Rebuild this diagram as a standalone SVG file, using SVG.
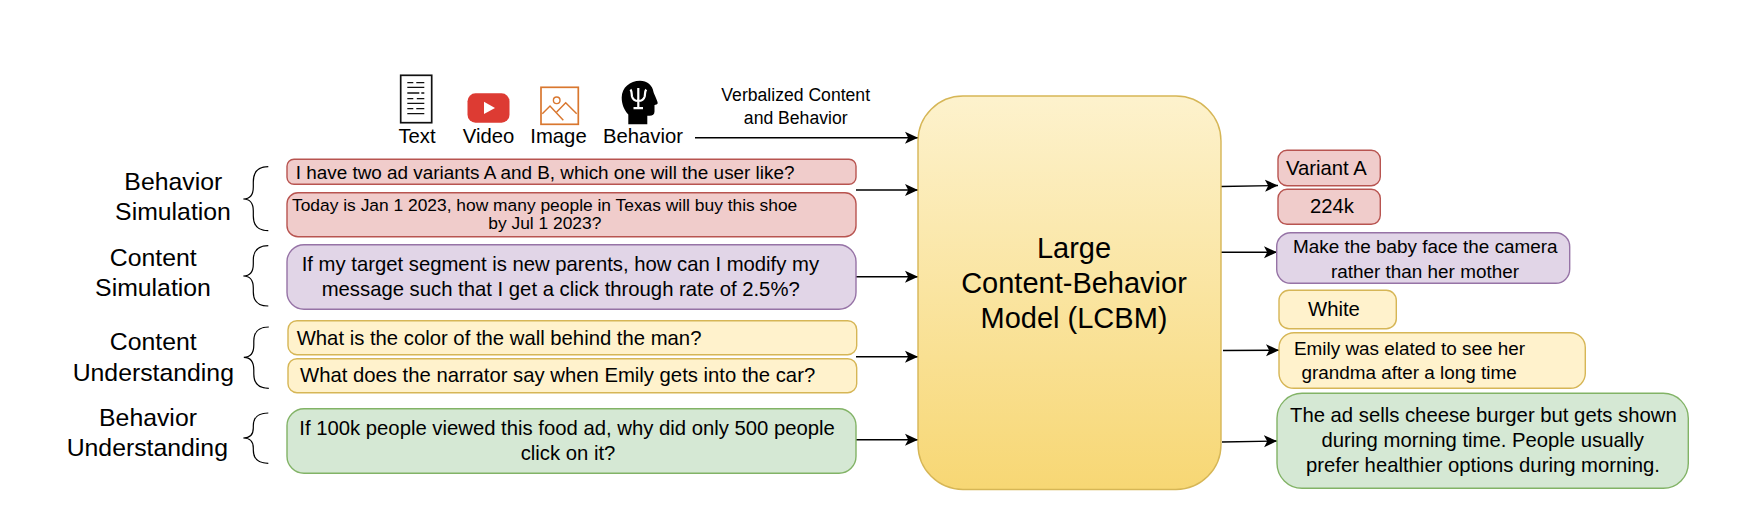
<svg xmlns="http://www.w3.org/2000/svg" width="1762" height="514" viewBox="0 0 1762 514">
<style>
text{font-family:"Liberation Sans",Arial,sans-serif;fill:#000}
.box{stroke-width:1.4}
.r{fill:#f0cccb;stroke:#b85450}
.p{fill:#e1d5e7;stroke:#9673a6}
.y{fill:#fff2cc;stroke:#d6b656}
.g{fill:#d5e8d4;stroke:#82b366}
.c{stroke:#000;stroke-width:1.4;fill:none;marker-end:url(#ah)}
.b{stroke:#000;stroke-width:1.2;fill:none}
.s17{font-size:17.6px}.s175{font-size:17.4px}.s19{font-size:18.9px}.s20{font-size:20.3px}.s24{font-size:24.8px}.s29{font-size:29px}
.m{text-anchor:middle}
</style>
<defs>
<marker id="ah" markerUnits="userSpaceOnUse" markerWidth="14" markerHeight="14" refX="13" refY="7" orient="auto"><path d="M0,1L13,7L0,13L3.2,7Z" fill="#000"/></marker>
<linearGradient id="gr" x1="0" y1="0" x2="0" y2="1"><stop offset="0" stop-color="#fdf2cd"/><stop offset="1" stop-color="#f7d774"/></linearGradient>
</defs>
<rect width="1762" height="514" fill="#fff"/>
<g id="connectors">
<path class="c" d="M695,137.7H918"/>
<path class="c" d="M856,190H918"/>
<path class="c" d="M856,276.7H918"/>
<path class="c" d="M856,356.7H918"/>
<path class="c" d="M856,439.7H918"/>
<path class="c" d="M1221,186.5L1278,185.5"/>
<path class="c" d="M1221,252.3H1277"/>
<path class="c" d="M1223,350.5L1279,350.2"/>
<path class="c" d="M1222,442L1277,441"/>
</g>
<g id="icon-text">
<rect x="400.7" y="75.3" width="31" height="47.4" fill="#fff" stroke="#111" stroke-width="1.7"/>
<path d="M407.3,82.7h6m3,0h8M407.3,87.3h17M407.3,93h12m2,0h3M407.3,98.7h6m3.500,0h7.500M407.3,103.3h17M407.3,108.7h6m3,0h8M407.3,113.7h17" stroke="#111" stroke-width="1.3" fill="none"/>
<text x="417" y="143" class="s20 m">Text</text>
</g>
<g id="icon-video">
<rect x="467.5" y="93.3" width="42" height="29.4" rx="8" fill="#dd3b33"/>
<path d="M484,101.7L495,108L484,114Z" fill="#fff"/>
<text x="488.5" y="143" class="s20 m">Video</text>
</g>
<g id="icon-image">
<rect x="541" y="87.3" width="37.3" height="37" fill="#fff" stroke="#d9772f" stroke-width="1.7"/>
<circle cx="556.7" cy="100.3" r="3.3" fill="none" stroke="#d9772f" stroke-width="1.4"/>
<path d="M542.3,113.7L550,106L563.3,120.3M556.7,112L565.700,102.700L576.7,113.7" fill="none" stroke="#d9772f" stroke-width="1.5"/>
<text x="558.5" y="143" class="s20 m">Image</text>
</g>
<g id="icon-behavior">
<path d="M628.300,124.300V114.500C624,110 621.700,104 621.700,97.500C621.700,87.500 630,80.700 640,80.700C647,80.700 652.500,85 653.500,92C654,94 657.700,101 657.700,103C657.700,104.500 655.500,104.500 654.500,105V111.500C654.500,114.500 652.500,115.700 649.500,115.700H647.300V124.300Z" fill="#000"/>
<path d="M630.500,89.500C632,91.500 631.500,94 632,96.500C633,100 635.500,101 638.300,101C641.200,101 643.700,100 644.700,96.500C645.200,94 644.700,91.500 646.200,89.500M638.300,88V108M633.500,108.200H643" fill="none" stroke="#fff" stroke-width="2.200"/>
<text x="643" y="143" class="s20 m">Behavior</text>
</g>
<g id="label-verbalized">
<text x="795.7" y="101.3" class="s17 m">Verbalized Content</text>
<text x="795.7" y="123.7" class="s17 m">and Behavior</text>
</g>
<g id="label-behavior-simulation">
<text x="173.3" y="190" class="s24 m">Behavior</text>
<text x="173" y="220" class="s24 m">Simulation</text>
<path class="b" d="M268.3,166.7C258,166.7 253.3,172 253.3,182V187C253.3,195 250,199 243.3,199C250,199 253.3,203 253.3,211V216C253.3,226 258,230.7 268.3,230.7"/>
</g>
<g id="label-content-simulation">
<text x="153.3" y="265.5" class="s24 m">Content</text>
<text x="153" y="296" class="s24 m">Simulation</text>
<path class="b" d="M268.3,245.7C258,245.700 253.3,251 253.3,260V264C253.3,272 250,276 243.3,276C250,276 253.3,280 253.3,288V292C253.3,301 258,306 268.3,306"/>
</g>
<g id="label-content-understanding">
<text x="153.3" y="350" class="s24 m">Content</text>
<text x="153.3" y="381" class="s24 m">Understanding</text>
<path class="b" d="M268.8,327C258.5,327 253.8,332 253.8,341V345C253.8,353 250.5,357.3 243.8,357.3C250.5,357.3 253.8,362 253.8,370V374C253.8,383 258.5,388.3 268.8,388.3"/>
</g>
<g id="label-behavior-understanding">
<text x="148" y="426" class="s24 m">Behavior</text>
<text x="147.3" y="456" class="s24 m">Understanding</text>
<path class="b" d="M268.3,413C258,413 253.3,418 253.3,426V428C253.3,434 250,438 243.3,438C250,438 253.3,442 253.3,448V450C253.3,458 258,463.3 268.3,463.3"/>
</g>
<g id="q-red-1"><rect class="box r" x="287" y="159.3" width="569" height="25" rx="7"/>
<text x="295.7" y="179" class="s19">I have two ad variants A and B, which one will the user like?</text></g>
<g id="q-red-2"><rect class="box r" x="287" y="192.7" width="569" height="44" rx="11"/>
<text x="292" y="211.3" class="s175">Today is Jan 1 2023, how many people in Texas will buy this shoe</text>
<text x="544.8" y="229" class="s175 m">by Jul 1 2023?</text></g>
<g id="q-purple"><rect class="box p" x="287" y="244.7" width="569" height="64.6" rx="17"/>
<text x="301.7" y="271.2" class="s20">If my target segment is new parents, how can I modify my</text>
<text x="321.7" y="296.2" class="s20">message such that I get a click through rate of 2.5%?</text></g>
<g id="q-yellow-1"><rect class="box y" x="288" y="320.7" width="568.7" height="34" rx="9"/>
<text x="296.7" y="344.5" class="s20">What is the color of the wall behind the man?</text></g>
<g id="q-yellow-2"><rect class="box y" x="288" y="358.7" width="568.7" height="34" rx="9"/>
<text x="300" y="382.3" class="s20">What does the narrator say when Emily gets into the car?</text></g>
<g id="q-green"><rect class="box g" x="287" y="408.7" width="569" height="64.6" rx="17"/>
<text x="299.3" y="434.5" class="s20">If 100k people viewed this food ad, why did only 500 people</text>
<text x="568" y="459.5" class="s20 m">click on it?</text></g>
<g id="lcbm"><rect x="918" y="96" width="303" height="393.5" rx="45" fill="url(#gr)" stroke="#d6b656" stroke-width="1.4"/>
<text x="1074" y="258" class="s29 m">Large</text>
<text x="1074" y="293.3" class="s29 m">Content-Behavior</text>
<text x="1074" y="328.3" class="s29 m">Model (LCBM)</text></g>
<g id="a-red-1"><rect class="box r" x="1278" y="150.3" width="102.3" height="35.4" rx="9"/>
<text x="1286" y="175" class="s20">Variant A</text></g>
<g id="a-red-2"><rect class="box r" x="1278" y="189.3" width="102.3" height="35" rx="9"/>
<text x="1310" y="213" class="s20">224k</text></g>
<g id="a-purple"><rect class="box p" x="1276.7" y="232.7" width="293" height="50.6" rx="14"/>
<text x="1293" y="252.8" class="s19">Make the baby face the camera</text>
<text x="1331" y="277.8" class="s19">rather than her mother</text></g>
<g id="a-yellow-1"><rect class="box y" x="1279" y="290.3" width="117.3" height="38.4" rx="10"/>
<text x="1308" y="316" class="s20">White</text></g>
<g id="a-yellow-2"><rect class="box y" x="1279" y="332.7" width="306.3" height="55.6" rx="15"/>
<text x="1294" y="355.2" class="s19">Emily was elated to see her</text>
<text x="1301.5" y="378.8" class="s19">grandma after a long time</text></g>
<g id="a-green"><rect class="box g" x="1277" y="393.3" width="411.3" height="95" rx="25"/>
<text x="1290" y="421.8" class="s20">The ad sells cheese burger but gets shown</text>
<text x="1321.5" y="446.8" class="s20">during morning time. People usually</text>
<text x="1306" y="471.8" class="s20">prefer healthier options during morning.</text></g>
</svg>
